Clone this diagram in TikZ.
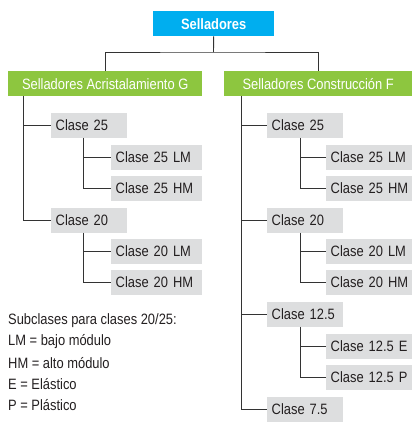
\documentclass[tikz,border=0pt]{standalone}
\usepackage{fontspec}
\setmainfont{Liberation Sans}[FakeStretch=0.86]
\definecolor{topcyan}{HTML}{00AEEF}
\definecolor{grn}{HTML}{8DC63F}
\definecolor{boxgray}{HTML}{DDDEDF}
\definecolor{linec}{HTML}{333333}
\definecolor{txt}{HTML}{231F20}
\begin{document}
\begin{tikzpicture}[x=1pt,y=-1pt,
  font=\fontsize{15}{17}\selectfont,
  base/.style={anchor=north west,inner sep=0pt,minimum height=24.5pt,text depth=0pt},
  gbox/.style={base,fill=boxgray,text=txt,align=left,inner xsep=4.5pt},
  topbox/.style={base,fill=topcyan,text=white,font=\fontsize{15}{17}\selectfont\bfseries,minimum width=121pt,minimum height=25pt},
  greenbox/.style={base,fill=grn,text=white,minimum height=25pt},
  conn/.style={draw=linec,line width=0.9pt},
  legend/.style={anchor=west,inner sep=0pt,text=txt}]
\useasboundingbox (0,0) rectangle (412,432);
% top
\node[topbox] (top) at (153,11) {Selladores};
\node[greenbox,minimum width=194pt] (gL) at (8,71) {Selladores Acristalamiento G};
\node[greenbox,minimum width=188pt] (gR) at (224,71) {Selladores Construcción F};
\coordinate (j) at (213.5,52);
\draw[conn] (top.south) -- (j);
\draw[conn] (gL.north) |- (j) -| (gR.north);
% left tree
\node[gbox,text width=67pt] (L25) at (51,113) {\mbox{Clase 25}};
\node[gbox,text width=82pt] (L25LM) at (111,145) {\mbox{Clase 25 LM}};
\node[gbox,text width=82pt] (L25HM) at (111,176) {\mbox{Clase 25 HM}};
\node[gbox,text width=67pt] (L20) at (51,208) {\mbox{Clase 20}};
\node[gbox,text width=82pt] (L20LM) at (111,239) {\mbox{Clase 20 LM}};
\node[gbox,text width=82pt] (L20HM) at (111,270) {\mbox{Clase 20 HM}};
\draw[conn] ([xshift=15.3pt]gL.south west) |- (L25.west);
\draw[conn] ([xshift=15.3pt]gL.south west) |- (L20.west);
\draw[conn] ([xshift=32pt]L25.south west) |- (L25LM.west);
\draw[conn] ([xshift=32pt]L25.south west) |- (L25HM.west);
\draw[conn] ([xshift=32pt]L20.south west) |- (L20LM.west);
\draw[conn] ([xshift=32pt]L20.south west) |- (L20HM.west);
% right tree
\node[gbox,text width=67pt] (R25) at (267,113) {\mbox{Clase 25}};
\node[gbox,text width=77pt] (R25LM) at (326,145) {\mbox{Clase 25 LM}};
\node[gbox,text width=77pt] (R25HM) at (326,176) {\mbox{Clase 25 HM}};
\node[gbox,text width=67pt] (R20) at (267,208) {\mbox{Clase 20}};
\node[gbox,text width=77pt] (R20LM) at (326,239) {\mbox{Clase 20 LM}};
\node[gbox,text width=77pt] (R20HM) at (326,270) {\mbox{Clase 20 HM}};
\node[gbox,text width=67pt] (R125) at (267,302) {\mbox{Clase 12.5}};
\node[gbox,text width=77pt] (R125E) at (326,334) {\mbox{Clase 12.5 E}};
\node[gbox,text width=77pt] (R125P) at (326,365) {\mbox{Clase 12.5 P}};
\node[gbox,text width=67pt] (R75) at (267,397) {\mbox{Clase 7.5}};
\foreach \n in {R25,R20,R125,R75}
  \draw[conn] ([xshift=17.7pt]gR.south west) |- (\n.west);
\draw[conn] ([xshift=33pt]R25.south west) |- (R25LM.west);
\draw[conn] ([xshift=33pt]R25.south west) |- (R25HM.west);
\draw[conn] ([xshift=33pt]R20.south west) |- (R20LM.west);
\draw[conn] ([xshift=33pt]R20.south west) |- (R20HM.west);
\draw[conn] ([xshift=33pt]R125.south west) |- (R125E.west);
\draw[conn] ([xshift=33pt]R125.south west) |- (R125P.west);
% legend
\node[legend] (lg1) at (8,321) {Subclases para clases 20/25:};
\node[legend] (lg2) at (8,342) {LM = bajo módulo};
\node[legend] (lg3) at (8,363) {HM = alto módulo};
\node[legend] (lg4) at (8,384) {E = Elástico};
\node[legend] (lg5) at (8,405) {P = Plástico};
\end{tikzpicture}
\end{document}
